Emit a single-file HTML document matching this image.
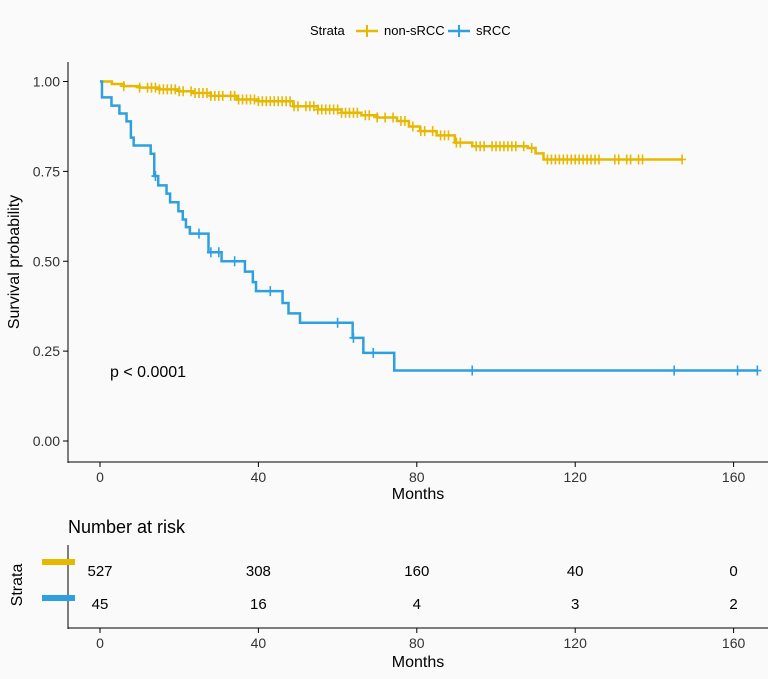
<!DOCTYPE html>
<html><head><meta charset="utf-8"><style>
body{margin:0;background:#fff}
svg{display:block;font-family:"Liberation Sans",sans-serif}
</style></head><body>
<svg id="c" width="768" height="679" viewBox="0 0 768 679">
<rect width="768" height="679" fill="#fafafa"/>
<g>
<text x="310" y="35" font-size="13">Strata</text>
<line x1="356" y1="31" x2="378" y2="31" stroke="#E7B800" stroke-width="2.5"/><line x1="367" y1="25" x2="367" y2="37" stroke="#E7B800" stroke-width="2"/>
<text x="384" y="35" font-size="13">non-sRCC</text>
<line x1="448" y1="31" x2="470" y2="31" stroke="#2E9FDF" stroke-width="2.5"/><line x1="459" y1="25" x2="459" y2="37" stroke="#2E9FDF" stroke-width="2"/>
<text x="476" y="35" font-size="13">sRCC</text>
</g>
<line x1="68" y1="62" x2="68" y2="463" stroke="#000"/>
<line x1="68" y1="462" x2="768" y2="462" stroke="#000"/>
<g id="yt"></g><g id="xt"></g>
<text x="19" y="262" font-size="16" transform="rotate(-90 19 262)" text-anchor="middle">Survival probability</text>
<text x="418" y="499" font-size="16" text-anchor="middle">Months</text>
<text x="110" y="377" font-size="16">p &lt; 0.0001</text>
<g id="curves"></g>
<text x="68" y="533" font-size="18">Number at risk</text>
<line x1="68" y1="545" x2="68" y2="629" stroke="#000"/>
<line x1="68" y1="628" x2="768" y2="628" stroke="#000"/>
<rect x="42" y="559" width="33" height="6" fill="#E7B800"/>
<rect x="42" y="595" width="33" height="6" fill="#2E9FDF"/>
<text x="22" y="585" font-size="16" transform="rotate(-90 22 585)" text-anchor="middle">Strata</text>
<text x="418" y="667" font-size="16" text-anchor="middle">Months</text>
<g id="risk"></g>
</svg>
<script>
const xTicks=[0,40,80,120,160];
const yTicks=[0,0.25,0.5,0.75,1];
const yTickLabels=["0.00","0.25","0.50","0.75","1.00"];
const srccTime=[0,0.5,2.9,4.9,6.7,7.8,8.5,12.8,13.7,14.7,16.8,17.7,19.8,20.9,21.7,22.7,27.4,30.7,36.6,38.6,39.4,46.1,47.6,50.5,63.8,66.5,74.3];
const srccSurv=[1,0.956,0.933,0.911,0.889,0.844,0.822,0.799,0.737,0.711,0.688,0.664,0.639,0.616,0.595,0.577,0.525,0.5,0.471,0.442,0.417,0.384,0.355,0.329,0.287,0.245,0.196];
const srccEnd=166;
const srccCensor=[14,25,28,30,34,43,60,64,69,94,145,161,166];
const nonTime=[0,3,6,10,15,20,23.5,28,34.6,40,48.8,55,61,66,70,75,78,80.8,85,89.6,94,108,110,112];
const nonSurv=[1,0.993,0.987,0.983,0.978,0.973,0.968,0.96,0.95,0.945,0.931,0.922,0.913,0.906,0.9,0.89,0.875,0.862,0.85,0.83,0.82,0.815,0.8,0.783];
const nonEnd=147;
const nonCensor=[6,10,12,13,14,15,16,17,18,19,20,21,23,24,25,26,27,28,29,30,31,33,34,35,36,37,38,39,40,41,42,43,44,45,46,47,48,49,50,52,53,54,55,56,57,58,59,60,61,62,63,64,65,67,68,70,72,74,76,77,79,81,82,84,86,87,88,90,91,95,96,97,99,100,101,102,103,104,105,107,109,113,114,115,116,117,118,119,120,121,122,123,124,125,126,130,131,133,134,136,137,147];
const riskTimes=[0,40,80,120,160];
const riskNon=[527,308,160,40,0];
const riskSrcc=[45,16,4,3,2];
const X=t=>100+t*3.96, Y=s=>441-s*359.5;
const NS="http://www.w3.org/2000/svg";
function el(tag,attrs,parent){const e=document.createElementNS(NS,tag);for(const k in attrs)e.setAttribute(k,attrs[k]);parent.appendChild(e);return e;}
const yt=document.getElementById('yt'),xt=document.getElementById('xt');
yTicks.forEach((v,i)=>{const l=el('line',{x1:63,x2:68,y1:Y(v),y2:Y(v),stroke:'#000'},yt);


const t=el('text',{x:60,y:Y(v)+5,'font-size':14,'text-anchor':'end',fill:'#333'},yt);t.textContent=yTickLabels[i];

});
xTicks.forEach(v=>{const l=el('line',{x1:X(v),x2:X(v),y1:462,y2:467,stroke:'#000'},xt);


const t=el('text',{x:X(v),y:482,'font-size':14,'text-anchor':'middle',fill:'#333'},xt);t.textContent=v;


const l2=el('line',{x1:X(v),x2:X(v),y1:628,y2:633,stroke:'#000'},xt);


const t2=el('text',{x:X(v),y:648,'font-size':14,'text-anchor':'middle',fill:'#333'},xt);t2.textContent=v;

});
function survAt(times,surv,t){let s=surv[0];for(let i=0;i<times.length;i++){if(times[i]<=t)s=surv[i];}return s;}
function curve(times,surv,end,cens,color,name){const g=document.getElementById('curves');
let d='M'+X(times[0])+','+Y(surv[0]);for(let i=1;i<times.length;i++){d+='H'+X(times[i])+'V'+Y(surv[i]);}d+='H'+X(end);
const p=el('path',{d:d,fill:'none',stroke:color,'stroke-width':2.5},g);


cens.forEach(c=>{const y=Y(survAt(times,surv,c));const m=el('path',{d:'M'+(X(c)-4)+','+y+'H'+(X(c)+4)+'M'+X(c)+','+(y-5)+'V'+(y+5),stroke:color,'stroke-width':1.6},g);

});}
curve(nonTime,nonSurv,nonEnd,nonCensor,'#E7B800','non-srcc');
curve(srccTime,srccSurv,srccEnd,srccCensor,'#2E9FDF','srcc');
const rk=document.getElementById('risk');
riskTimes.forEach((t,i)=>{const a=el('text',{x:X(t),y:576,'font-size':15,'text-anchor':'middle'},rk);a.textContent=riskNon[i];


const b=el('text',{x:X(t),y:609,'font-size':15,'text-anchor':'middle'},rk);b.textContent=riskSrcc[i];

});
</script>
</body></html>
